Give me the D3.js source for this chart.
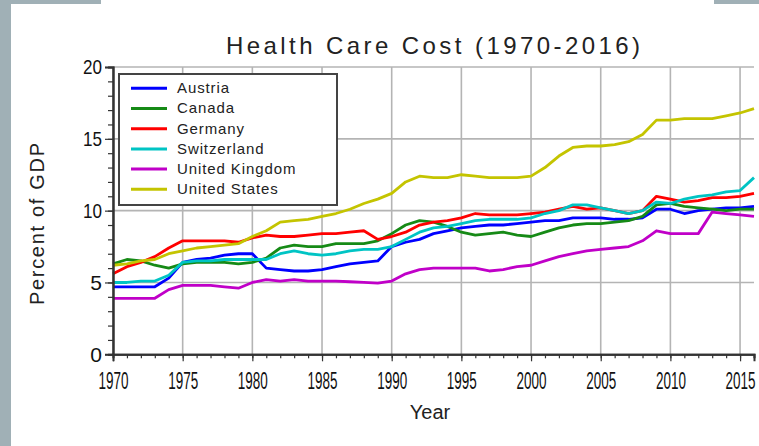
<!DOCTYPE html>
<html><head><meta charset="utf-8">
<script src="https://cdn.jsdelivr.net/npm/d3@7"></script>
<style>
html,body{margin:0;padding:0;background:#fff;}
svg{display:block;font-family:"Liberation Sans",Arial,sans-serif;}
</style></head>
<body>
<svg id="chart" width="759" height="446"></svg>
<script>
const years = d3.range(1970, 2017);
const countries = ["Austria","Canada","Germany","Switzerland","United Kingdom","United States"];
const colors = ["#0000ff","#168a16","#ff0000","#00c4c4","#c000c8","#c4c400"];
const austria = [4.7,4.7,4.7,4.7,5.3,6.4,6.6,6.7,6.9,7.0,7.0,6.0,5.9,5.8,5.8,5.9,6.1,6.3,6.4,6.5,7.5,7.8,8.0,8.4,8.6,8.8,8.9,9.0,9.0,9.1,9.2,9.3,9.3,9.5,9.5,9.5,9.4,9.4,9.5,10.1,10.1,9.8,10.0,10.1,10.2,10.2,10.3];
const canada = [6.3,6.6,6.5,6.2,6.0,6.3,6.4,6.4,6.4,6.3,6.4,6.7,7.4,7.6,7.5,7.5,7.7,7.7,7.7,7.9,8.4,9.0,9.3,9.2,8.9,8.5,8.3,8.4,8.5,8.3,8.2,8.5,8.8,9.0,9.1,9.1,9.2,9.3,9.6,10.4,10.5,10.3,10.2,10.1,10.0,10.1,10.1];
const germany = [5.6,6.1,6.4,6.8,7.4,7.9,7.9,7.9,7.9,7.8,8.1,8.3,8.2,8.2,8.3,8.4,8.4,8.5,8.6,8.0,8.2,8.5,9.0,9.2,9.3,9.5,9.8,9.7,9.7,9.7,9.8,9.9,10.1,10.3,10.1,10.2,10.0,9.8,10.0,11.0,10.8,10.6,10.7,10.9,10.9,11.0,11.2];
const switzerland = [5.0,5.0,5.1,5.1,5.5,6.4,6.5,6.5,6.6,6.6,6.6,6.6,7.0,7.2,7.0,6.9,7.0,7.2,7.3,7.3,7.5,8.0,8.5,8.8,8.9,9.1,9.3,9.4,9.4,9.4,9.5,9.8,10.0,10.4,10.4,10.2,10.0,9.8,10.0,10.6,10.5,10.8,11.0,11.1,11.3,11.4,12.3];
const unitedKingdom = [3.9,3.9,3.9,3.9,4.5,4.8,4.8,4.8,4.7,4.6,5.0,5.2,5.1,5.2,5.1,5.1,5.1,5.05,5.0,4.95,5.1,5.6,5.9,6.0,6.0,6.0,6.0,5.8,5.9,6.1,6.2,6.5,6.8,7.0,7.2,7.3,7.4,7.5,7.9,8.6,8.4,8.4,8.4,9.9,9.8,9.7,9.6];
const unitedStates = [6.2,6.3,6.5,6.6,7.0,7.2,7.4,7.5,7.6,7.7,8.2,8.6,9.2,9.3,9.4,9.6,9.8,10.1,10.5,10.8,11.2,12.0,12.4,12.3,12.3,12.5,12.4,12.3,12.3,12.3,12.4,13.0,13.8,14.4,14.5,14.5,14.6,14.8,15.3,16.3,16.3,16.4,16.4,16.4,16.6,16.8,17.1];
const seriesValues = [austria, canada, germany, switzerland, unitedKingdom, unitedStates];
const xTickLabels = ["1970","1975","1980","1985","1990","1995","2000","2005","2010","2015"];
const yTickLabels = ["0","5","10","15","20"];

const svg = d3.select("#chart");
const frame = "#a0b0b6";
svg.append("rect").attr("x",0).attr("y",0).attr("width",11).attr("height",446).attr("fill",frame);
svg.append("rect").attr("x",0).attr("y",0).attr("width",101).attr("height",4).attr("fill",frame);
svg.append("rect").attr("x",714).attr("y",0).attr("width",45).attr("height",4).attr("fill",frame);

const x = d3.scaleLinear().domain([1970, 2016]).range([113, 754]);
const y = d3.scaleLinear().domain([0, 20]).range([354.3, 67]);

const g = svg.append("g");
g.selectAll(".vg").data(xTickLabels.map(Number)).join("line")
  .attr("x1",d=>x(d)).attr("x2",d=>x(d)).attr("y1",y(0)).attr("y2",y(20))
  .attr("stroke","#b4b4b4").attr("stroke-width",1.6);
g.selectAll(".hg").data(yTickLabels.map(Number).filter(d=>d>0)).join("line")
  .attr("x1",x(1970)).attr("x2",x(2016)).attr("y1",d=>y(d)).attr("y2",d=>y(d))
  .attr("stroke","#b4b4b4").attr("stroke-width",1.6);

const line = d3.line().x((d,i)=>x(years[i])).y(d=>y(d));
seriesValues.forEach((vals,k)=>{
  svg.append("path").datum(vals).attr("d",line).attr("fill","none")
    .attr("stroke",colors[k]).attr("stroke-width",2.8).attr("stroke-linejoin","round");
});

const xMinor = d3.axisBottom(x).tickValues(years).tickSize(4).tickFormat("");
const xMajor = d3.axisBottom(x).tickValues(xTickLabels.map(Number)).tickSize(7).tickPadding(11).tickFormat((d,i)=>xTickLabels[i]);
const yMinor = d3.axisLeft(y).tickValues(d3.range(0,21)).tickSize(5).tickFormat("");
const yMajor = d3.axisLeft(y).tickValues(yTickLabels.map(Number)).tickSize(8).tickPadding(3).tickFormat((d,i)=>yTickLabels[i]);

function styleAxis(sel){
  sel.selectAll("path").attr("stroke","#333").attr("stroke-width",2);
  sel.selectAll("line").attr("stroke","#333").attr("stroke-width",1.2);
}
const gx1 = svg.append("g").attr("transform",`translate(0,${y(0)})`).call(xMinor); styleAxis(gx1);
const gx2 = svg.append("g").attr("transform",`translate(0,${y(0)})`).call(xMajor); styleAxis(gx2);
gx2.selectAll("text").attr("font-size",23).attr("fill","#111").attr("font-family","Liberation Sans")
  .attr("textLength",30).attr("lengthAdjust","spacingAndGlyphs");
const gy1 = svg.append("g").attr("transform",`translate(${x(1970)},0)`).call(yMinor); styleAxis(gy1);
const gy2 = svg.append("g").attr("transform",`translate(${x(1970)},0)`).call(yMajor); styleAxis(gy2);
gy2.selectAll("text").attr("font-size",21).attr("fill","#111").attr("font-family","Liberation Sans")
  .each(function(d,i){ if(yTickLabels[i].length>1) d3.select(this).attr("textLength",19).attr("lengthAdjust","spacingAndGlyphs"); });

svg.append("text").attr("x",433).attr("y",54).attr("text-anchor","middle")
  .attr("font-size",24).attr("fill","#222").attr("textLength",414).attr("lengthAdjust","spacing")
  .text("Health Care Cost (1970-2016)");
svg.append("text").attr("transform","translate(44,224) rotate(-90)").attr("text-anchor","middle")
  .attr("font-size",20).attr("fill","#222").attr("textLength",162).attr("lengthAdjust","spacing")
  .text("Percent of GDP");
svg.append("text").attr("x",430).attr("y",419).attr("text-anchor","middle")
  .attr("font-size",20).attr("fill","#222").text("Year");

const lg = svg.append("g");
lg.append("rect").attr("x",119).attr("y",74).attr("width",218).attr("height",131)
  .attr("fill","#fff").attr("stroke","#444").attr("stroke-width",2);
countries.forEach((c,k)=>{
  const yy = 88.3 + k*20.2;
  lg.append("line").attr("x1",131).attr("x2",167).attr("y1",yy).attr("y2",yy)
    .attr("stroke",colors[k]).attr("stroke-width",3);
  lg.append("text").attr("x",177).attr("y",yy+1).attr("dominant-baseline","middle")
    .attr("font-size",15).attr("letter-spacing",0.9).attr("fill","#222").text(c);
});
</script>
</body></html>
